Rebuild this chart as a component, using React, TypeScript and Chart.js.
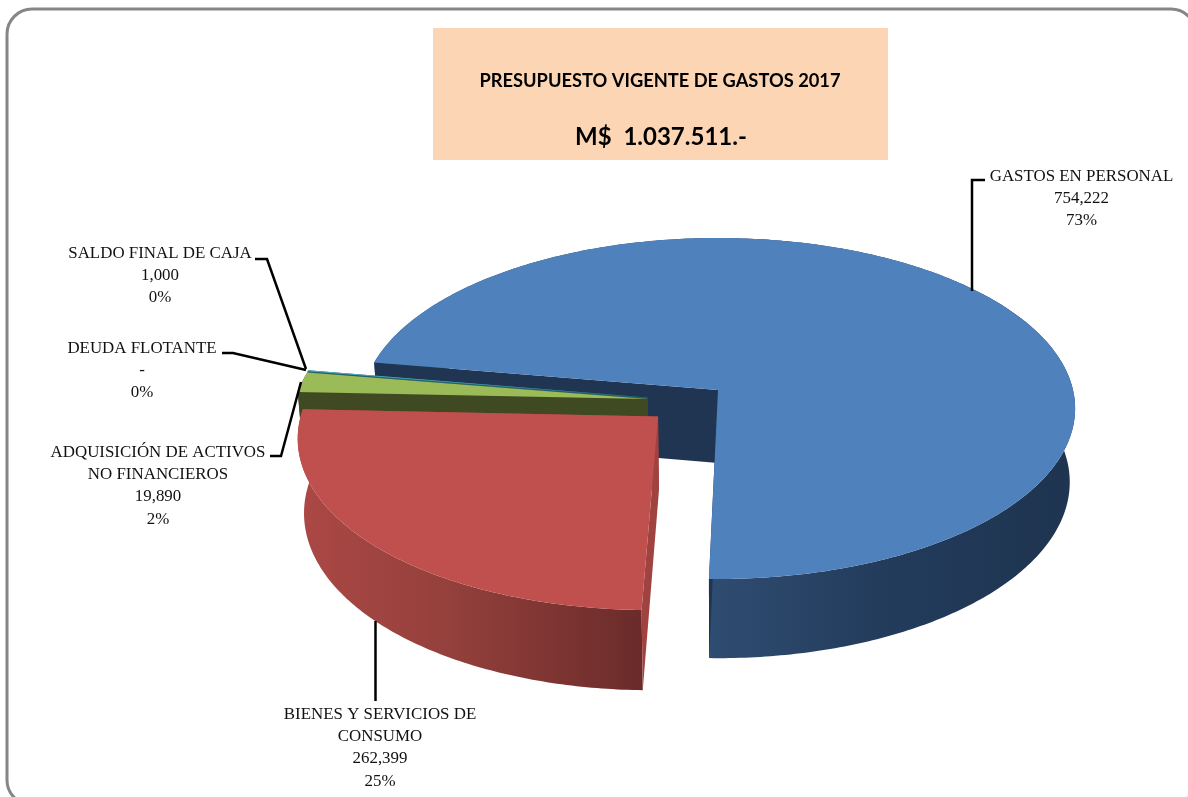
import React, { useEffect, useRef } from "react";
import { Chart, registerables } from "chart.js";

Chart.register(...registerables);

// ---- data ----
const categories = [
  "GASTOS EN PERSONAL",
  "BIENES Y SERVICIOS DE CONSUMO",
  "ADQUISICIÓN DE ACTIVOS NO FINANCIEROS",
  "DEUDA FLOTANTE",
  "SALDO FINAL DE CAJA",
];
const seriesValues = [754222, 262399, 19890, 0, 1000];
const valueTexts = ["754,222", "262,399", "19,890", "-", "1,000"];
const percentTexts = ["73%", "25%", "2%", "0%", "0%"];
const nameLines = [
  ["GASTOS EN PERSONAL"],
  ["BIENES Y SERVICIOS DE", "CONSUMO"],
  ["ADQUISICIÓN DE ACTIVOS", "NO FINANCIEROS"],
  ["DEUDA FLOTANTE"],
  ["SALDO FINAL DE CAJA"],
];
const titleLine = "PRESUPUESTO VIGENTE DE GASTOS 2017";
const totalLine = "M$  1.037.511.-";

// ---- styles / layout ----
const FIRST_ANGLE = 279.6;
const topColors = ["#4F81BD", "#C0504D", "#9BBB59", "#8064A2", "#4BACC6"];
const wallColors = ["#1F3552", "#A04340", "#3F4A22", "#3F3050", "#24606F"];
const rimStops: [number, string][][] = [
  [[710, "#2F4C71"], [880, "#233C5C"], [1075, "#1E3450"]],
  [[298, "#AC4845"], [450, "#94403C"], [643, "#6A2B2A"]],
  [[298, "#4F5E2C"], [330, "#3F4A22"]],
  [[298, "#3F3050"], [330, "#3F3050"]],
  [[298, "#24606F"], [330, "#24606F"]],
];
const shifts = [
  [0, 0],
  [-0.166, 0.154],
  [-0.198, 0.053],
  [-0.198, 0.045],
  [-0.198, 0.045],
];
const radii = [1, 0.99, 0.985, 0.985, 0.985];
const drawOrder = [0, 4, 3, 2, 1];
const CX = 718;
const PERSP = 0.1085;
const SCALE_X = 355;
const BOT_SCALE = 0.985;
const TOP_Y = 390;
const TOP_B = 168.5;
const BOT_Y = 463;
const BOT_B = 174;

const labelPlace = [
  { x: 1081.5, y: 181, leader: [[985, 180], [972, 180], [972, 291]] },
  { x: 380, y: 719, leader: [[375.5, 621], [375.5, 701]] },
  { x: 158, y: 457, leader: [[270, 456], [281, 456], [301, 382]] },
  { x: 142, y: 353, leader: [[222, 353], [233, 353], [306, 370]] },
  { x: 160, y: 258, leader: [[255, 259], [267, 259], [306, 369]] },
];
const LINE_H = 22.2;
const LABEL_FONT = "16.9px 'Liberation Serif'";

function project(u: number, v: number, bottom: boolean) {
  const f = 1 - PERSP * v;
  return {
    x: CX + ((bottom ? BOT_SCALE : 1) * SCALE_X * u) / f,
    y: bottom ? BOT_Y + (BOT_B * v) / f : TOP_Y + (TOP_B * v) / f,
  };
}

const pie3d = {
  id: "pie3d",
  beforeDatasetDraw(chart: any) {
    const { ctx } = chart;
    const arcs = chart.getDatasetMeta(0).data;

    ctx.save();
    ctx.fillStyle = "#ffffff";
    ctx.fillRect(0, 0, chart.width, chart.height);

    // frame
    ctx.beginPath();
    ctx.roundRect(7, 9, 1189, 796, 25);
    ctx.strokeStyle = "#868686";
    ctx.lineWidth = 3;
    ctx.stroke();

    // heading box
    ctx.fillStyle = "#FCD5B5";
    ctx.fillRect(433, 28, 455, 132);
    ctx.fillStyle = "#000000";
    ctx.textAlign = "center";
    ctx.textBaseline = "alphabetic";
    ctx.font = "bold 18.3px Lato";
    ctx.fillText(titleLine, 660, 87);
    ctx.font = "bold 24px Lato";
    ctx.fillText(totalLine, 661, 145);

    // slices, back to front
    for (const i of drawOrder) {
      const arc = arcs[i];
      const { startAngle, endAngle } = arc.getProps(["startAngle", "endAngle"], true);
      if (endAngle - startAngle < 1e-6) continue;
      const [su, sv] = shifts[i];
      const r = radii[i];
      const pt = (a: number, rr: number, bottom: boolean) => {
        const th = a + Math.PI / 2;
        return project(su + rr * r * Math.sin(th), sv - rr * r * Math.cos(th), bottom);
      };
      const steps = Math.max(2, Math.ceil((endAngle - startAngle) / (Math.PI / 240)));
      const at = (k: number) => startAngle + ((endAngle - startAngle) * k) / steps;

      // rim
      const stops = rimStops[i];
      const x0 = stops[0][0];
      const x1 = stops[stops.length - 1][0];
      const grad = ctx.createLinearGradient(x0, 0, x1, 0);
      stops.forEach((s) => grad.addColorStop((s[0] - x0) / (x1 - x0), s[1]));
      ctx.beginPath();
      for (let k = 0; k <= steps; k++) {
        const p = pt(at(k), 1, false);
        k ? ctx.lineTo(p.x, p.y) : ctx.moveTo(p.x, p.y);
      }
      for (let k = steps; k >= 0; k--) {
        const p = pt(at(k), 1, true);
        ctx.lineTo(p.x, p.y);
      }
      ctx.closePath();
      ctx.fillStyle = grad;
      ctx.fill();

      // radial walls
      for (const a of [startAngle, endAngle]) {
        const c1 = pt(a, 0, false);
        const o1 = pt(a, 1, false);
        const o2 = pt(a, 1, true);
        const c2 = pt(a, 0, true);
        ctx.beginPath();
        ctx.moveTo(c1.x, c1.y);
        ctx.lineTo(o1.x, o1.y);
        ctx.lineTo(o2.x, o2.y);
        ctx.lineTo(c2.x, c2.y);
        ctx.closePath();
        ctx.fillStyle = wallColors[i];
        ctx.fill();
      }

      // top face
      const c = pt(0, 0, false);
      ctx.beginPath();
      ctx.moveTo(c.x, c.y);
      for (let k = 0; k <= steps; k++) {
        const p = pt(at(k), 1, false);
        ctx.lineTo(p.x, p.y);
      }
      ctx.closePath();
      ctx.fillStyle = topColors[i];
      ctx.fill();
    }

    // leaders and labels
    ctx.strokeStyle = "#000000";
    ctx.lineWidth = 2.5;
    ctx.lineJoin = "miter";
    ctx.fillStyle = "#111111";
    ctx.font = LABEL_FONT;
    ctx.textAlign = "center";
    categories.forEach((_, i) => {
      const place = labelPlace[i];
      ctx.beginPath();
      place.leader.forEach((p, k) => (k ? ctx.lineTo(p[0], p[1]) : ctx.moveTo(p[0], p[1])));
      ctx.stroke();
      const lines = [...nameLines[i], valueTexts[i], percentTexts[i]];
      lines.forEach((t, k) => ctx.fillText(t, place.x, place.y + k * LINE_H));
    });
    ctx.restore();
    return false;
  },
};

export default function App() {
  const ref = useRef<HTMLCanvasElement>(null);
  useEffect(() => {
    document.body.style.margin = "0";
    document.documentElement.style.overflow = "hidden";
    const chart = new Chart(ref.current as HTMLCanvasElement, {
      type: "pie",
      data: {
        labels: categories,
        datasets: [{ data: seriesValues, backgroundColor: topColors, borderWidth: 0 }],
      },
      options: {
        animation: false,
        responsive: false,
        rotation: FIRST_ANGLE,
        plugins: { legend: { display: false }, tooltip: { enabled: false } },
      },
      plugins: [pie3d],
    } as any);
    return () => chart.destroy();
  }, []);
  return (
    <div style={{ width: 1188, height: 797 }}>
      <canvas ref={ref} width={1188} height={797} style={{ display: "block" }} />
    </div>
  );
}
